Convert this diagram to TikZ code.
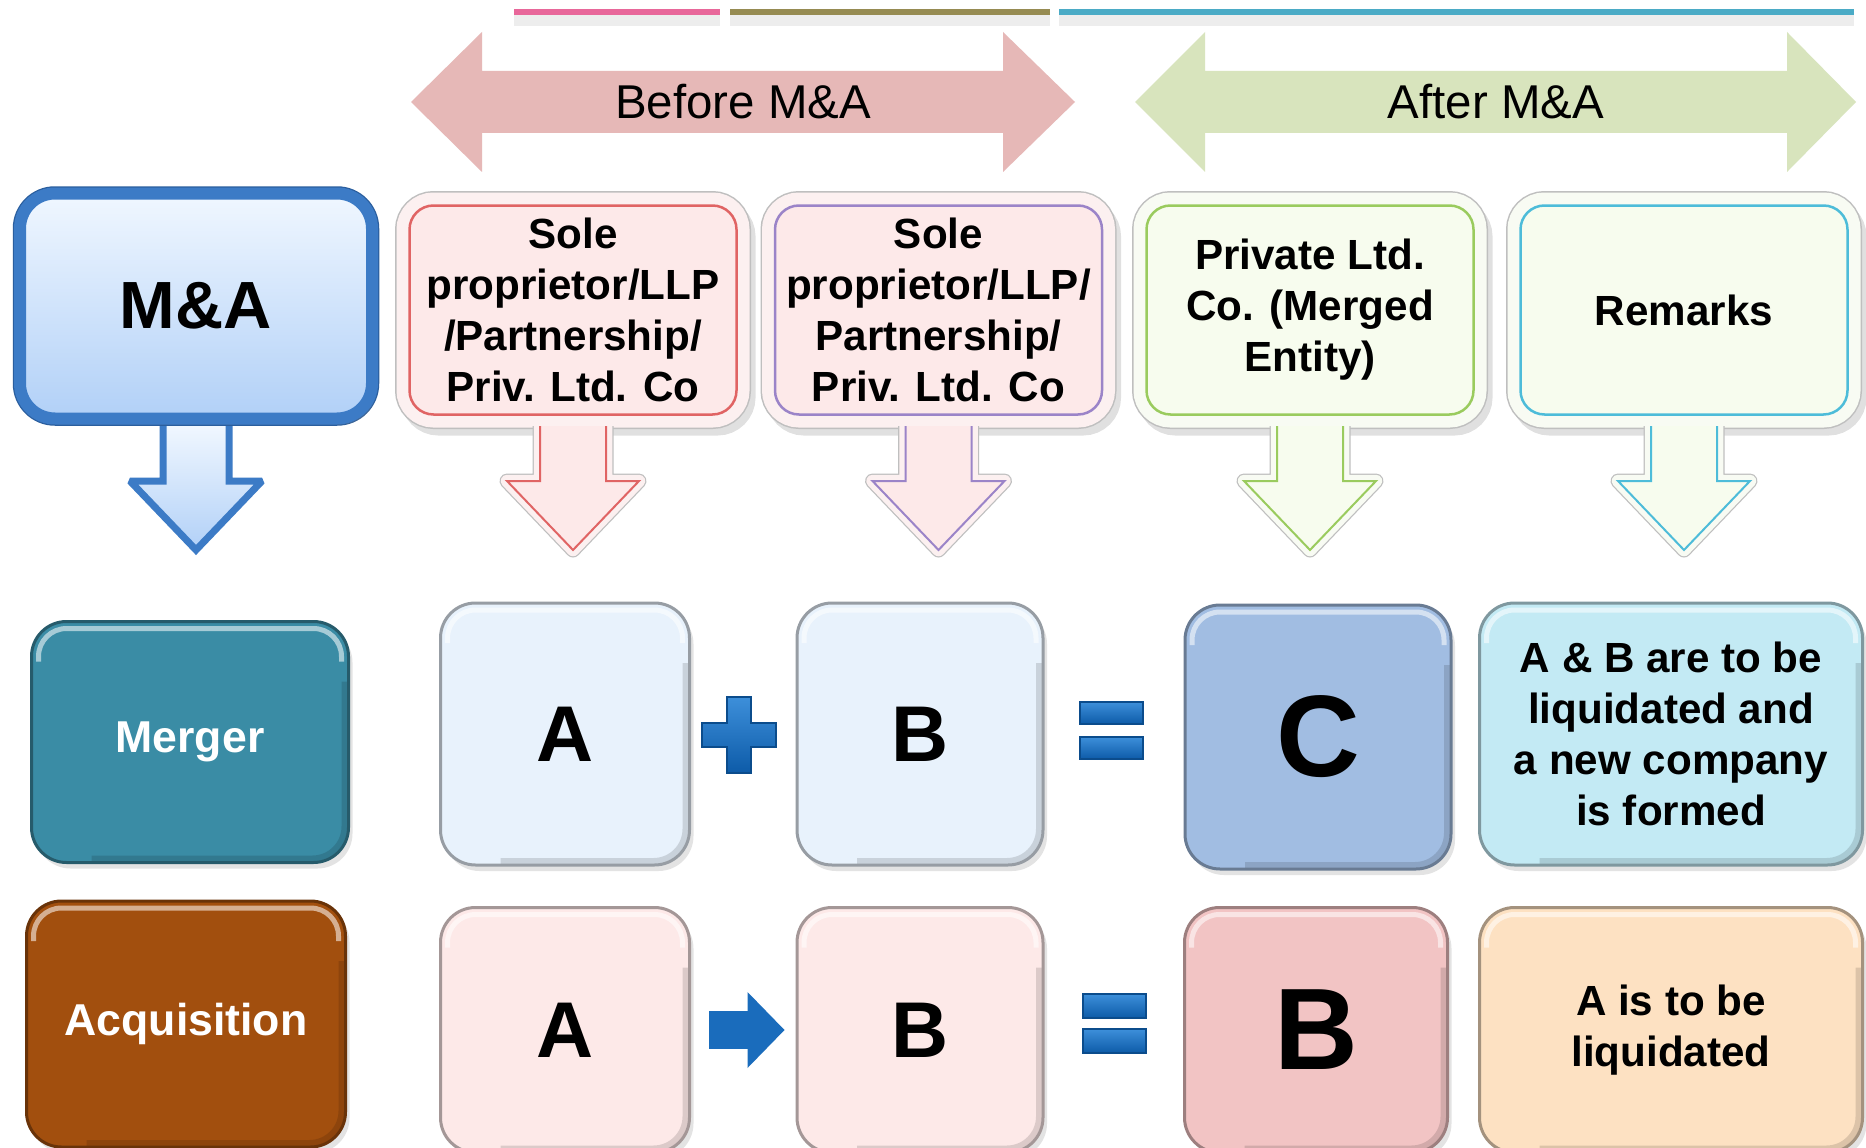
\documentclass[tikz,border=0pt]{standalone}
\usepackage{fontspec}
\setmainfont{Liberation Sans}
\usetikzlibrary{positioning,shadows,arrows.meta}

\definecolor{ttlPink}{HTML}{E8679A}
\definecolor{ttlOlive}{HTML}{968B52}
\definecolor{ttlTeal}{HTML}{4BABC6}
\definecolor{beforeFill}{HTML}{E6B8B7}
\definecolor{afterFill}{HTML}{D8E4BD}
\definecolor{maBlue}{HTML}{3C7BC6}
\definecolor{maDark}{HTML}{2A5E9E}
\definecolor{maTop}{HTML}{F0F7FF}
\definecolor{maBot}{HTML}{B1D0F7}
\definecolor{sOneLine}{HTML}{E06464}
\definecolor{sTwoLine}{HTML}{9B84C8}
\definecolor{soleFill}{HTML}{FDE9E9}
\definecolor{soleFrame}{HTML}{FCF0F0}
\definecolor{pvLine}{HTML}{9ACB5E}
\definecolor{rmLine}{HTML}{4DBCD9}
\definecolor{greenFill}{HTML}{F7FCEE}
\definecolor{greenFrame}{HTML}{F8FBF3}
\definecolor{mergeCol}{HTML}{3A8CA5}
\definecolor{acqCol}{HTML}{A24F0E}
\definecolor{paleBlue}{HTML}{E8F2FC}
\definecolor{cCol}{HTML}{A1BDE2}
\definecolor{remOne}{HTML}{C3EAF4}
\definecolor{palePink}{HTML}{FDE9E8}
\definecolor{bCol}{HTML}{F2C4C4}
\definecolor{remTwo}{HTML}{FDE1C2}
\definecolor{opTop}{HTML}{3D8FDA}
\definecolor{opBot}{HTML}{0D5BA8}
\definecolor{opDark}{HTML}{0B4C8C}
\definecolor{opBlue}{HTML}{1A6CBC}

\tikzset{
    ttl/.style={line width=0.6mm},
    bandtext/.style={font=\fontsize{13.5}{16}\selectfont},
    mabox/.style={rounded corners=3.5mm, minimum width=35.2mm, minimum height=22.5mm,
        top color=maTop, bottom color=maBot, draw=maBlue, line width=1.2mm,
        preaction={draw=maDark, line width=1.45mm},
        drop shadow={opacity=.25, shadow xshift=.4mm, shadow yshift=-.6mm},
        font=\bfseries\fontsize{19}{23}\selectfont},
    hdr/.style n args={3}{rounded corners=2.4mm, minimum width=32.7mm, minimum height=20.9mm,
        inner sep=0pt, align=center, font=\bfseries\fontsize{12}{14.5}\selectfont,
        fill=#2, draw=#1, line width=0.25mm,
        preaction={draw=black, opacity=.12, line width=2.8mm, transform canvas={shift={(.5mm,-.7mm)}}},
        preaction={draw=black!25, line width=2.9mm},
        preaction={draw=#3, line width=2.6mm}},
    maarr/.style={top color=maTop, bottom color=maBot, draw=maBlue, line width=0.7mm,
        miter limit=1.5},
    harr/.style n args={3}{fill=#2, draw=#1, line width=0.2mm,
        preaction={draw=black!25, line width=1.5mm, line join=round},
        preaction={draw=#3, line width=1.25mm, line join=round}},
    tile/.style={rounded corners=3.5mm, fill=#1, draw=#1!65!black, line width=0.3mm,
        inner sep=0pt, align=center,
        drop shadow={opacity=.22, shadow xshift=.4mm, shadow yshift=-.6mm},
        path picture={
            \draw[white, opacity=.55, line width=.5mm, rounded corners=2.8mm]
                ([shift={(.7mm,-4mm)}]path picture bounding box.north west)
                |- ([shift={(-.7mm,-.7mm)}]path picture bounding box.north east)
                -- ([shift={(-.7mm,-4mm)}]path picture bounding box.north east);
            \draw[black, opacity=.13, line width=.6mm, rounded corners=3.2mm]
                ([shift={(-.4mm,-6mm)}]path picture bounding box.north east)
                |- ([shift={(6mm,.4mm)}]path picture bounding box.south west);
        }},
    side/.style={font=\bfseries\fontsize{12.7}{15}\selectfont, text=white},
    letter/.style={font=\bfseries\fontsize{22.5}{27}\selectfont},
    bigletter/.style={font=\bfseries\fontsize{33}{40}\selectfont},
    note/.style={font=\bfseries\fontsize{12}{14.5}\selectfont},
    opsym/.style={top color=opTop, bottom color=opBot, draw=opDark, line width=0.15mm},
    pusharr/.style={draw=opBlue, line width=3.8mm,
        -{Triangle[length=3.7mm, width=7.6mm, line width=0pt]},
        shorten <=1.8mm, shorten >=1.1mm},
  }

% block arrow hanging below a header box
\newcommand{\dnarrow}[2]{%
  \path[#2] (#1.south |- arrtop) ++(-33,0) -- ++(0,55) -- ++(-33,0) -- ++(66,69)
      -- ++(66,-69) -- ++(-33,0) -- ++(0,-55);}

\begin{document}
\begin{tikzpicture}[x=0.1mm, y=-0.1mm]
  \useasboundingbox (0,0) rectangle (1866,1148);
  \fill[white] (0,0) rectangle (1866,1148);
  \clip (0,0) rectangle (1866,1148);

  % colour bars
  \foreach \a/\b/\c in {514/720/ttlPink, 730/1050/ttlOlive, 1059/1854/ttlTeal} {
    \draw[line width=1.2mm, black, opacity=.07] (\a,20) -- (\b,20);
    \draw[ttl, \c] (\a,12) -- (\b,12);
  }

  % before / after bands
  \fill[beforeFill] (411,102) -- (482,32) -- (482,71) -- (1003,71) -- (1003,32) -- (1075,102)
      -- (1003,172) -- (1003,133) -- (482,133) -- (482,172) -- cycle;
  \fill[afterFill] (1135,102) -- (1205,32) -- (1205,71) -- (1787,71) -- (1787,32) -- (1856,102)
      -- (1787,172) -- (1787,133) -- (1205,133) -- (1205,172) -- cycle;
  \node[bandtext] (before) at (743,102) {Before M\&A};
  \node[bandtext] (after) at (1496,102) {After M\&A};

  % header row
  \node[mabox] (ma) at (196,306) {M\&A};
  \node[hdr={sOneLine}{soleFill}{soleFrame}] (sole1) at (573,310)
      {Sole\\proprietor/LLP\\/Partnership/\\Priv. Ltd. Co};
  \node[hdr={sTwoLine}{soleFill}{soleFrame}, right=3.6mm of sole1] (sole2)
      {Sole\\proprietor/LLP/\\Partnership/\\Priv. Ltd. Co};
  \node[hdr={pvLine}{greenFill}{greenFrame}, right=4.2mm of sole2] (priv)
      {Private Ltd.\\Co. (Merged\\Entity)};
  \node[hdr={rmLine}{greenFill}{greenFrame}, right=4.45mm of priv] (remk) {Remarks};

  \coordinate (arrtop) at (0,426);
  \dnarrow{ma}{maarr}
  \dnarrow{sole1}{harr={sOneLine}{soleFill}{soleFrame}}
  \dnarrow{sole2}{harr={sTwoLine}{soleFill}{soleFrame}}
  \dnarrow{priv}{harr={pvLine}{greenFill}{greenFrame}}
  \dnarrow{remk}{harr={rmLine}{greenFill}{greenFrame}}

  % merger row
  \node[tile=mergeCol, side, minimum width=31.7mm, minimum height=24.1mm] (merger) at (190,742) {Merger};
  \node[tile=paleBlue, letter, minimum width=24.9mm, minimum height=26.2mm] (ma1) at (565,734) {A};
  \node[tile=paleBlue, letter, minimum width=24.6mm, minimum height=26.2mm] (mb1) at (920,734) {B};
  \node[tile=cCol, bigletter, minimum width=26.6mm, minimum height=26.4mm] (mc1) at (1318,737) {C};
  \node[tile=remOne, note, minimum width=38.3mm, minimum height=26.2mm] (mrem) at (1671,734)
      {A \& B are to be\\liquidated and\\a new company\\is formed};

  \path[opsym] (727,697) -- (751,697) -- (751,723) -- (776,723) -- (776,747) -- (751,747)
      -- (751,773) -- (727,773) -- (727,747) -- (702,747) -- (702,723) -- (727,723) -- cycle;
  \foreach \y in {702,737}
    \path[opsym] (1080,\y) rectangle (1143,\y+22);

  % acquisition row
  \node[tile=acqCol, side, minimum width=31.9mm, minimum height=24.6mm] (acq) at (186,1024) {Acquisition};
  \node[tile=palePink, letter, minimum width=24.9mm, minimum height=24.5mm] (aa) at (565,1030) {A};
  \node[tile=palePink, letter, minimum width=24.6mm, minimum height=24.5mm] (ab) at (920,1030) {B};
  \node[tile=bCol, bigletter, minimum width=26.3mm, minimum height=24.5mm] (ac) at (1316,1030) {B};
  \node[tile=remTwo, note, minimum width=38.3mm, minimum height=24.5mm] (arem) at (1671,1030)
      {A is to be\\liquidated};

  \draw[pusharr] (aa) -- (ab);
  \foreach \y in {994,1029}
    \path[opsym] (1083,\y) rectangle (1146,\y+24);
\end{tikzpicture}
\end{document}
